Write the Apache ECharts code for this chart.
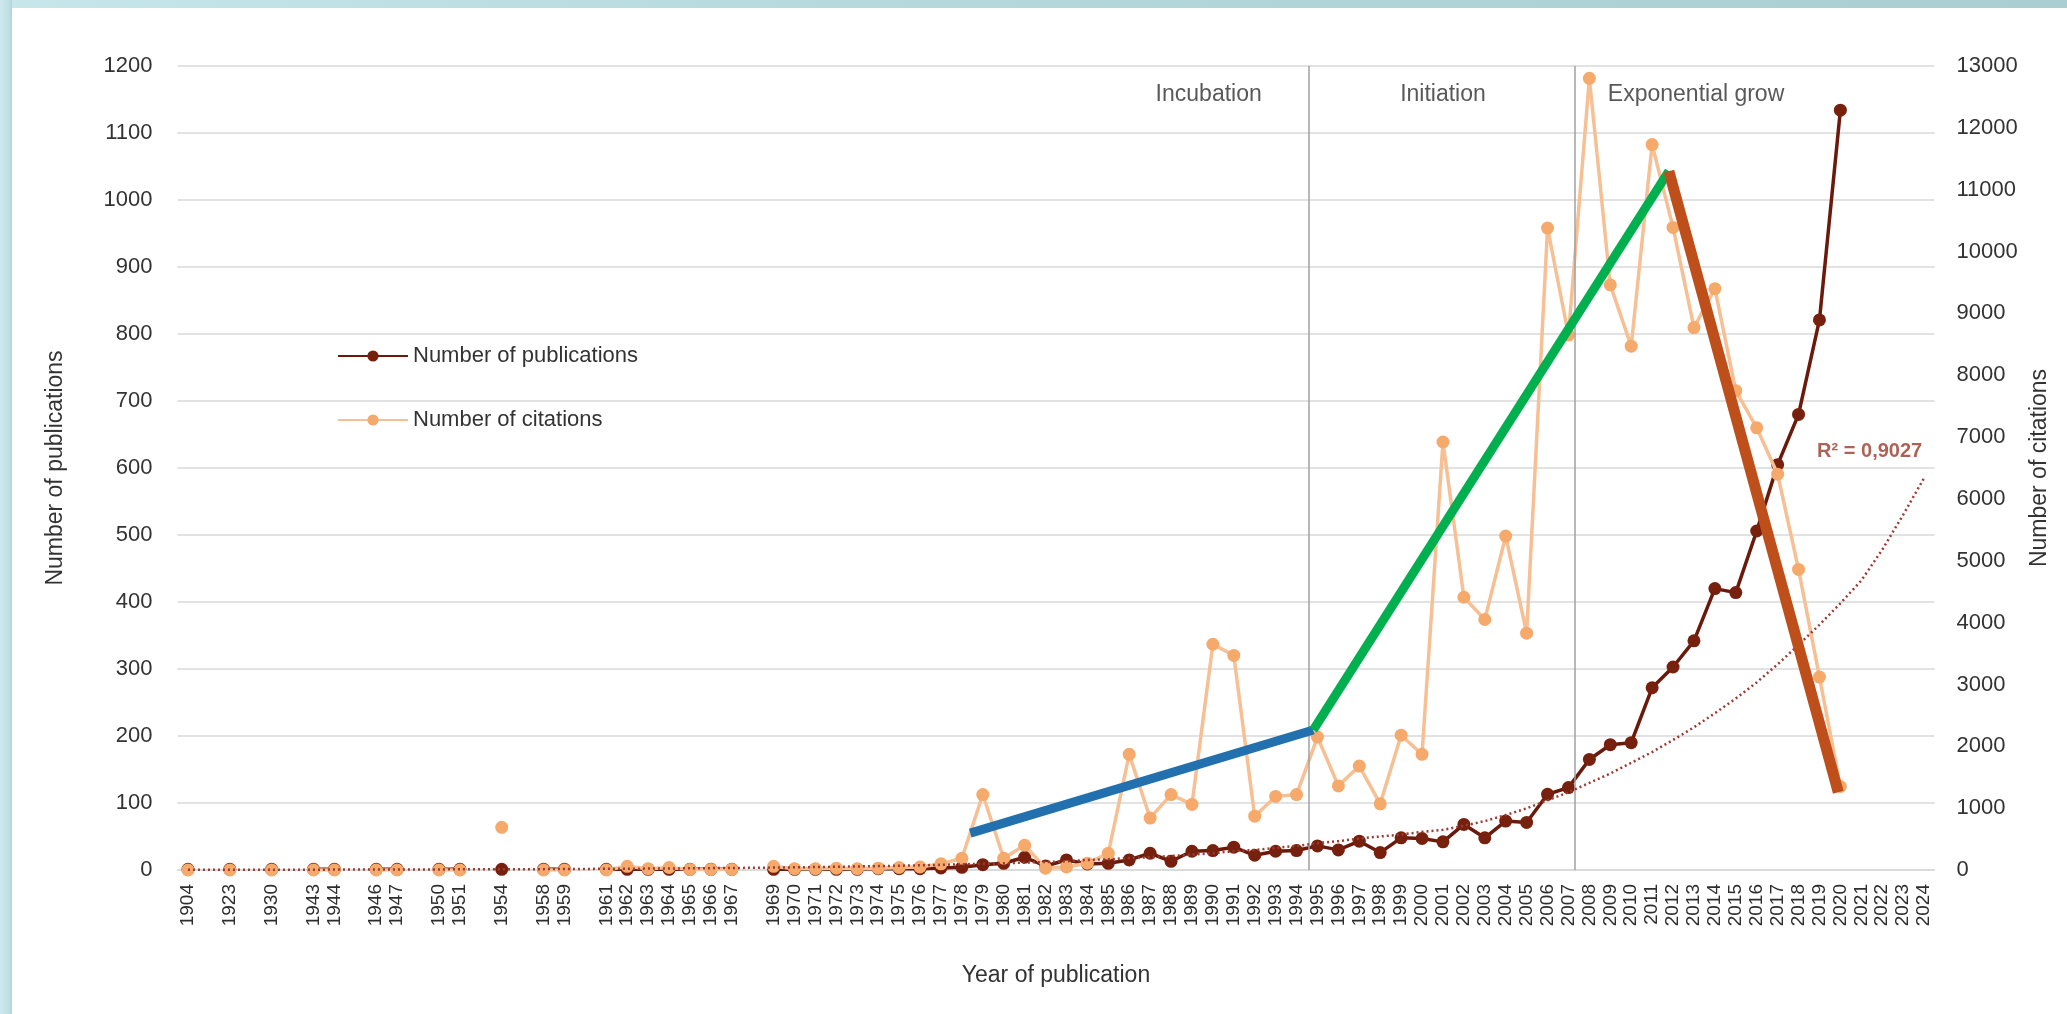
<!DOCTYPE html>
<html>
<head>
<meta charset="utf-8">
<title>Publications and citations per year</title>
<script src="https://cdn.jsdelivr.net/npm/echarts@6/dist/echarts.min.js"></script>
<style>
  html, body { margin: 0; padding: 0; background: #ffffff; }
  #wrap { position: relative; width: 2067px; height: 1014px; overflow: hidden; background: #ffffff; }
  #chart { position: absolute; left: 0; top: 0; width: 2067px; height: 1014px; }
  .band-top { position: absolute; left: 0; top: 0; width: 2067px; height: 8px; z-index: 2;
    background: linear-gradient(90deg, #c6e6ea 0%, #b4d8dc 45%, #a9cfd3 100%); }
  .band-left { position: absolute; left: 0; top: 0; width: 12px; height: 1014px; z-index: 2;
    background: linear-gradient(90deg, #cfeaee 0%, #bfe0e4 70%, #b2d6da 100%); }
</style>
</head>
<body>
<div id="wrap">
  <div class="band-top"></div>
  <div class="band-left"></div>
  <div id="chart"></div>
</div>
<script>
// Category slots along the x axis; '' marks an empty spacer slot between non-consecutive years
const years = [
  '1904', '', '1923', '', '1930', '', '1943', '1944', '', '1946', '1947', '', '1950', '1951', '',
  '1954', '', '1958', '1959', '', '1961', '1962', '1963', '1964', '1965', '1966', '1967', '',
  '1969', '1970', '1971', '1972', '1973', '1974', '1975', '1976', '1977', '1978', '1979', '1980',
  '1981', '1982', '1983', '1984', '1985', '1986', '1987', '1988', '1989', '1990', '1991', '1992',
  '1993', '1994', '1995', '1996', '1997', '1998', '1999', '2000', '2001', '2002', '2003', '2004',
  '2005', '2006', '2007', '2008', '2009', '2010', '2011', '2012', '2013', '2014', '2015', '2016',
  '2017', '2018', '2019', '2020', '2021', '2022', '2023', '2024'
];

// Number of publications per slot (left axis)
const publications = [
  1, null, 1, null, 1, null, 1, 1, null, 1, 1, null, 1, 1, null,
  1, null, 1, 1, null, 1, 1, 1, 1, 1, 1, 1, null,
  1, 1, 1, 1, 1, 2, 2, 2, 3, 4, 8, 10,
  19, 6, 15, 9, 10, 15, 25, 13, 28, 29, 34, 22,
  28, 29, 36, 30, 43, 26, 48, 47, 42, 68, 48, 73,
  71, 113, 123, 165, 187, 190, 272, 303, 342, 420, 414, 506,
  605, 680, 821, 1134, null, null, null, null
];

// Number of citations per slot (right axis)
const citations = [
  0, null, 0, null, 0, null, 0, 0, null, 0, 0, null, 0, 0, null,
  690, null, 0, 0, null, 0, 60, 20, 40, 10, 10, 10, null,
  60, 20, 20, 30, 20, 30, 40, 50, 100, 190, 1220, 190,
  400, 30, 50, 110, 270, 1870, 840, 1220, 1060, 3650, 3470, 870,
  1190, 1220, 2150, 1360, 1680, 1070, 2180, 1870, 6920, 4410, 4050, 5400,
  3830, 10380, 8650, 12800, 9460, 8470, 11730, 10390, 8770, 9400, 7750, 7150,
  6400, 4860, 3120, 1350, null, null, null, null
];

// Exponential trend of publications (dotted), read slot by slot
const pubTrend = [
  0.3, 0.3, 0.4, 0.4, 0.4, 0.5, 0.5, 0.6, 0.6, 0.7,
  0.7, 0.8, 0.9, 1, 1, 1.1, 1.2, 1.3, 1.5, 1.6,
  1.8, 1.9, 2.1, 2.3, 2.5, 2.8, 3, 3.3, 3.6, 4,
  4.4, 4.8, 5.3, 5.8, 6.4, 7, 7.7, 8.5, 9.3, 10,
  11, 12, 13, 15, 16, 18, 19, 21, 23, 25,
  28, 30, 33, 36, 40, 43, 47, 50, 53, 57,
  60, 66, 73, 82, 92, 104, 116, 130, 144, 160,
  176, 194, 213, 234, 256, 280, 307, 336, 366, 398,
  432, 478, 530, 585
];
const trendLabel = 'R² = 0,9027';

// Phase names and where their headings sit (slot position, publications value)
const phaseNames = ['Incubation', 'Initiation', 'Exponential grow'];
const phaseLabelSlots = [48.8, 60.0, 72.1];
const phaseLabelLevel = 1157;
// Slot positions of the phase boundary lines
const phaseBounds = [53.6, 66.3];

// Hand-drawn trend segments: [slot position, publications value]
const blueSegment = [[37.4, 55], [53.8, 209]];
const greenSegment = [[53.8, 209], [70.8, 1043]];
const brownSegment = [[70.8, 1043], [78.9, 116]];
const trendLabelPoint = [80.4, 624];

const FONT = '"Liberation Sans", Arial, sans-serif';
const TXT = '#333333';
const plain = v => String(v);

const chart = echarts.init(document.getElementById('chart'), null, { renderer: 'canvas' });

const segment = (name, data, color, width) => ({
  name, type: 'line', xAxisIndex: 1, yAxisIndex: 0, data,
  showSymbol: false, symbol: 'none', silent: true, z: 10,
  lineStyle: { color, width, cap: 'butt' }
});

chart.setOption({
  animation: false,
  backgroundColor: 'transparent',
  textStyle: { fontFamily: FONT },
  grid: { left: 177.5, right: 132.5, top: 66, bottom: 144, containLabel: false },
  legend: {
    data: ['Number of publications', 'Number of citations'],
    orient: 'vertical', left: 332, top: 338,
    itemWidth: 70, itemHeight: 14, itemGap: 38,
    textStyle: { fontFamily: FONT, fontSize: 22, color: TXT, lineHeight: 26 }
  },
  xAxis: [
    {
      type: 'category', data: years, boundaryGap: true,
      name: 'Year of publication', nameLocation: 'middle', nameGap: 94,
      nameTextStyle: { fontFamily: FONT, fontSize: 23, color: TXT },
      axisLine: { show: true, lineStyle: { color: '#d9d9d9', width: 1.5 } },
      axisTick: { show: false },
      axisLabel: { interval: 0, rotate: 90, margin: 14, fontSize: 19, color: '#2e2e2e', fontFamily: FONT }
    },
    { type: 'value', min: -0.5, max: 83.5, show: false }
  ],
  yAxis: [
    {
      type: 'value', min: 0, max: 1200, interval: 100, position: 'left',
      name: 'Number of publications', nameLocation: 'middle', nameGap: 110,
      nameTextStyle: { fontFamily: FONT, fontSize: 23, color: TXT },
      axisLine: { show: false }, axisTick: { show: false },
      axisLabel: { fontSize: 22, color: TXT, margin: 25, fontFamily: FONT, formatter: plain },
      splitLine: { show: true, lineStyle: { color: '#d9d9d9', width: 1.5 } }
    },
    {
      type: 'value', min: 0, max: 13000, interval: 1000, position: 'right',
      name: 'Number of citations', nameLocation: 'middle', nameGap: 92, nameRotate: 90,
      nameTextStyle: { fontFamily: FONT, fontSize: 23, color: TXT },
      axisLine: { show: false }, axisTick: { show: false },
      axisLabel: { fontSize: 22, color: TXT, margin: 22, fontFamily: FONT, formatter: plain },
      splitLine: { show: false }
    }
  ],
  series: [
    {
      name: 'Number of publications', type: 'line', xAxisIndex: 0, yAxisIndex: 0,
      data: publications, connectNulls: false,
      symbol: 'circle', symbolSize: 13, z: 3,
      lineStyle: { color: '#6a190b', width: 3.5 },
      itemStyle: { color: '#78200e' }
    },
    {
      name: 'Number of citations', type: 'line', xAxisIndex: 0, yAxisIndex: 1,
      data: citations, connectNulls: false,
      symbol: 'circle', symbolSize: 13, z: 4,
      lineStyle: { color: '#f6c094', width: 3.5 },
      itemStyle: { color: '#f5a96b' }
    },
    {
      name: 'Trend', type: 'line', xAxisIndex: 0, yAxisIndex: 0,
      data: pubTrend, showSymbol: false, symbol: 'none', silent: true, z: 5,
      lineStyle: { color: '#9c3a32', width: 2.5, type: [2, 3] }
    },
    {
      name: 'Phases', type: 'scatter', xAxisIndex: 1, yAxisIndex: 0,
      data: phaseNames.map((n, i) => [phaseLabelSlots[i], phaseLabelLevel, n]),
      symbolSize: 1, itemStyle: { color: 'rgba(0,0,0,0)' }, silent: true, z: 6,
      label: {
        show: true, position: 'inside', formatter: p => p.data[2],
        fontFamily: FONT, fontSize: 23, color: '#2e2e2e'
      },
      markLine: {
        silent: true, symbol: 'none', animation: false,
        label: { show: false },
        lineStyle: { color: '#a0a0a0', width: 1.5, type: 'solid' },
        data: phaseBounds.map(v => ({ xAxis: v }))
      }
    },
    {
      name: 'Trend label', type: 'scatter', xAxisIndex: 1, yAxisIndex: 0,
      data: [[trendLabelPoint[0], trendLabelPoint[1], trendLabel]],
      symbolSize: 1, itemStyle: { color: 'rgba(0,0,0,0)' }, silent: true, z: 6,
      label: {
        show: true, position: 'inside', formatter: p => p.data[2],
        fontFamily: FONT, fontSize: 20, fontWeight: 'bold', color: '#9a3a2b'
      }
    },
    segment('Blue segment', blueSegment, '#2270ad', 9),
    segment('Green segment', greenSegment, '#00b04f', 9),
    segment('Brown segment', brownSegment, '#bf4f1a', 11)
  ]
});
</script>
</body>
</html>
